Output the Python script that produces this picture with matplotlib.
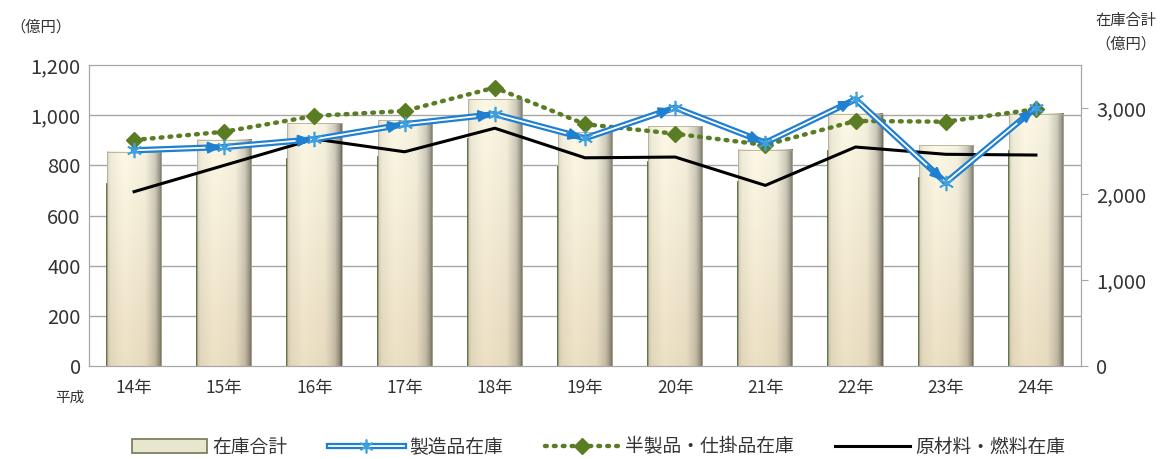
import numpy as np
import matplotlib
matplotlib.use("Agg")
import matplotlib.pyplot as plt
import matplotlib.patheffects as pe
from matplotlib.lines import Line2D
from matplotlib.patches import Patch
from matplotlib.ticker import FuncFormatter
from matplotlib.legend_handler import HandlerTuple

plt.rcParams['font.family'] = ['Noto Sans CJK JP', 'DejaVu Sans']

# data (億円)
years = ['14年', '15年', '16年', '17年', '18年', '19年', '20年', '21年', '22年', '23年', '24年']
total_stock = [2490, 2630, 2825, 2860, 3100, 2720, 2790, 2515, 2935, 2565, 2935]  # right axis
product_stock = [860, 873, 904, 964, 1004, 908, 1030, 890, 1063, 731, 1030]
semi_stock = [901, 934, 997, 1017, 1110, 964, 926, 881, 977, 974, 1024]
material_stock = [695, 800, 905, 854, 948, 830, 833, 720, 873, 844, 841]
left_ticks = [0, 200, 400, 600, 800, 1000, 1200]
right_ticks = [0, 1000, 2000, 3000]

LMAX, RMAX = 1200, 3500
BLUE = '#1f7fd0'
GREEN = '#5a7d23'
GRID = '#a6a6a6'

fig = plt.figure(figsize=(11.63, 4.59), dpi=100)
ax = fig.add_axes([89/1163, 1-366/459, 992/1163, 301/459])
ax2 = ax.twinx()
ax.set_zorder(ax2.get_zorder() + 1)
ax.patch.set_visible(False)

x = np.arange(len(years))
ax.set_xlim(-0.5, len(years) - 0.5)
ax.set_ylim(0, LMAX)
ax2.set_ylim(0, RMAX)

# grid (left axis values mapped to the bar axis so bars cover it)
for v in left_ticks[1:-1]:
    ax2.axhline(v * RMAX / LMAX, color=GRID, lw=1, zorder=0)

# bars with a cylinder-like gradient
w = 0.6
nx, ny = 60, 100
hx = np.linspace(0, 1, nx)
prof = np.interp(hx, [0, 0.06, 0.3, 0.7, 0.88, 0.96, 1.0], [0.86, 0.95, 1.0, 0.97, 0.82, 0.62, 0.45])
vy = np.linspace(0, 1, ny)[:, None]
top = np.array([0.99, 0.975, 0.9])
bot = np.array([0.93, 0.88, 0.77])
base = bot + (top - bot) * vy[..., None]
img = base * prof[None, :, None]
img = np.clip(img, 0, 1)
for xi, h in zip(x, total_stock):
    ax2.imshow(img, extent=(xi - w/2, xi + w/2, 0, h), origin='lower',
               aspect='auto', zorder=2, interpolation='bilinear')
    ax2.plot([xi - w/2, xi - w/2], [0, h * 0.85], color='#3d5c25', lw=1.2, zorder=3)
bars = ax2.bar(x, total_stock, width=w, facecolor='none', edgecolor='#b0ae92', lw=0.6, zorder=3)
ax2.set_xlim(-0.5, len(years) - 0.5)
ax2.set_ylim(0, RMAX)

# lines
ax.plot(x, material_stock, color='black', lw=2.2, zorder=4)
ax.plot(x, semi_stock, color=GREEN, lw=3.2, ls=(0, (0.4, 1.6)), dash_capstyle='round',
        marker='D', ms=8, markerfacecolor=GREEN, markeredgecolor=GREEN, zorder=5)
blue_fx = [pe.Stroke(linewidth=4.5, foreground=BLUE), pe.Normal()]
ax.plot(x, product_stock, color='white', lw=1.3, path_effects=blue_fx, zorder=6)
for i in range(len(x) - 1):
    x0, y0 = x[i], product_stock[i]
    x1, y1 = x[i+1], product_stock[i+1]
    ax.annotate('', xy=(x1, y1), xytext=(x0 + 0.8*(x1-x0), y0 + 0.8*(y1-y0)),
                arrowprops=dict(arrowstyle='-|>,head_length=0.8,head_width=0.35',
                                color=BLUE, lw=1.5, shrinkA=0, shrinkB=2), zorder=7)
ax.plot(x, product_stock, ls='none', marker=(6, 2, 0), ms=11, mew=1.2,
        markeredgecolor='#3fa0e0', zorder=8)

# axes styling
for s in ['left', 'right', 'top', 'bottom']:
    ax.spines[s].set_color(GRID)
    ax2.spines[s].set_color(GRID)
ax.set_yticks(left_ticks)
ax.yaxis.set_major_formatter(FuncFormatter(lambda v, p: f'{v:,.0f}'))
ax.tick_params(axis='y', length=0, labelsize=14.5, pad=6, labelcolor='#333333')
ax2.set_yticks(right_ticks)
ax2.yaxis.set_major_formatter(FuncFormatter(lambda v, p: f'{v:,.0f}'))
ax2.tick_params(axis='y', length=5, color=GRID, labelsize=14.5, pad=6, labelcolor='#333333')

ax.set_xticks(np.arange(len(years) + 1) - 0.5)
ax.set_xticklabels([])
ax.tick_params(axis='x', which='major', direction='in', length=5, color=GRID)
ax.set_xticks(x, minor=True)
ax.set_xticklabels(years, minor=True)
ax.tick_params(axis='x', which='minor', length=0, labelsize=12.5, pad=9, labelcolor='#333333')
ax2.set_xticks([])

fig.text(10/1163, 1-27/459, '（億円）', fontsize=11, va='center', ha='left', color='#333333')
fig.text(1126/1163, 1-20/459, '在庫合計', fontsize=11, va='center', ha='center', color='#333333')
fig.text(1126/1163, 1-44/459, '（億円）', fontsize=11, va='center', ha='center', color='#333333')
fig.text(70/1163, 1-398/459, '平成', fontsize=10.5, va='center', ha='center', color='#333333')

blue_line = Line2D([], [], color='white', lw=1.3, path_effects=blue_fx)
blue_mark = Line2D([], [], ls='none', marker=(6, 2, 0), ms=10, mew=1.2, markeredgecolor='#3fa0e0')
handles = [
    Patch(facecolor='#e9e6cf', edgecolor='#6f7a52', lw=1.2),
    (blue_line, blue_mark),
    Line2D([], [], color=GREEN, lw=3.2, ls=(0, (0.4, 1.6)), dash_capstyle='round',
           marker='D', ms=8, markerfacecolor=GREEN, markeredgecolor=GREEN),
    Line2D([], [], color='black', lw=2.2),
]
labels = ['在庫合計', '製造品在庫', '半製品・仕掛品在庫', '原材料・燃料在庫']
fig.legend(handles, labels, loc='center', bbox_to_anchor=(0.515, 1-447/459), ncol=4,
           frameon=False, fontsize=13.5, handlelength=4, handletextpad=0.3,
           columnspacing=2.2, labelcolor='#333333',
           handler_map={tuple: HandlerTuple(ndivide=1)})

fig.savefig('out.png', dpi=100)
